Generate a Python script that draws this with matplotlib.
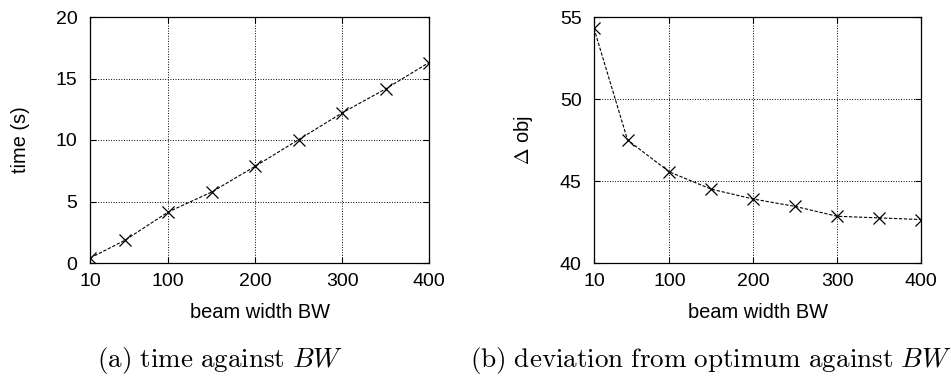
import matplotlib
matplotlib.use('Agg')
import matplotlib.pyplot as plt

plt.rcParams['font.family'] = ['Liberation Sans', 'DejaVu Sans']
plt.rcParams['mathtext.fontset'] = 'cm'

# Data
beam_width = [10, 50, 100, 150, 200, 250, 300, 350, 400]
time_s = [0.4, 1.84, 4.15, 5.77, 7.86, 10.03, 12.2, 14.15, 16.3]
delta_obj = [54.3, 47.5, 45.55, 44.5, 43.9, 43.45, 42.85, 42.75, 42.65]
x_ticks = [10, 100, 200, 300, 400]

fig = plt.figure(figsize=(9.51, 3.76), dpi=100)
ax1 = fig.add_axes([90 / 951, 1 - 263 / 376, 339 / 951, 246 / 376])
ax2 = fig.add_axes([594 / 951, 1 - 263 / 376, 327 / 951, 246 / 376])

panels = [
    (ax1, time_s, (0, 20), [0, 5, 10, 15, 20], 'time (s)', -0.206, -0.203),
    (ax2, delta_obj, (40, 55), [40, 45, 50, 55], r'$\Delta$ obj', -0.217, -0.203),
]

for ax, vals, ylim, yticks, ylabel, ylx, xly in panels:
    ax.plot(beam_width, vals, color='black', linestyle='--', linewidth=0.8,
            marker='x', markersize=9, markeredgewidth=0.9, dashes=(3, 1.5))
    ax.set_xlim(10, 400)
    ax.set_ylim(*ylim)
    ax.set_xticks(x_ticks)
    ax.set_yticks(yticks)
    ax.tick_params(labelsize=14, direction='in', length=4, width=0.8)
    ax.tick_params(axis='x', pad=7)
    ax.tick_params(axis='y', pad=9)
    ax.tick_params(top=True, right=True)
    ax.grid(True, color='black', linestyle=':', linewidth=0.7)
    for s in ax.spines.values():
        s.set_linewidth(0.9)
    ax.set_xlabel('beam width BW', fontsize=14.4)
    ax.set_ylabel(ylabel, fontsize=14.4)
    ax.xaxis.set_label_coords(0.5, xly)
    ax.xaxis.label.set_va('center')
    ax.yaxis.set_label_coords(ylx, 0.5)
    ax.yaxis.label.set_va('center')

fig.text(220.5 / 951, 1 - 360 / 376, r'$\mathrm{(a)\ time\ against\ }BW$',
         ha='center', va='center', fontsize=19.5)
fig.text(711 / 951, 1 - 360 / 376, r'$\mathrm{(b)\ deviation\ from\ optimum\ against\ }BW$',
         ha='center', va='center', fontsize=19.5)

plt.savefig('out.png', dpi=100, facecolor='white')
plt.close()
